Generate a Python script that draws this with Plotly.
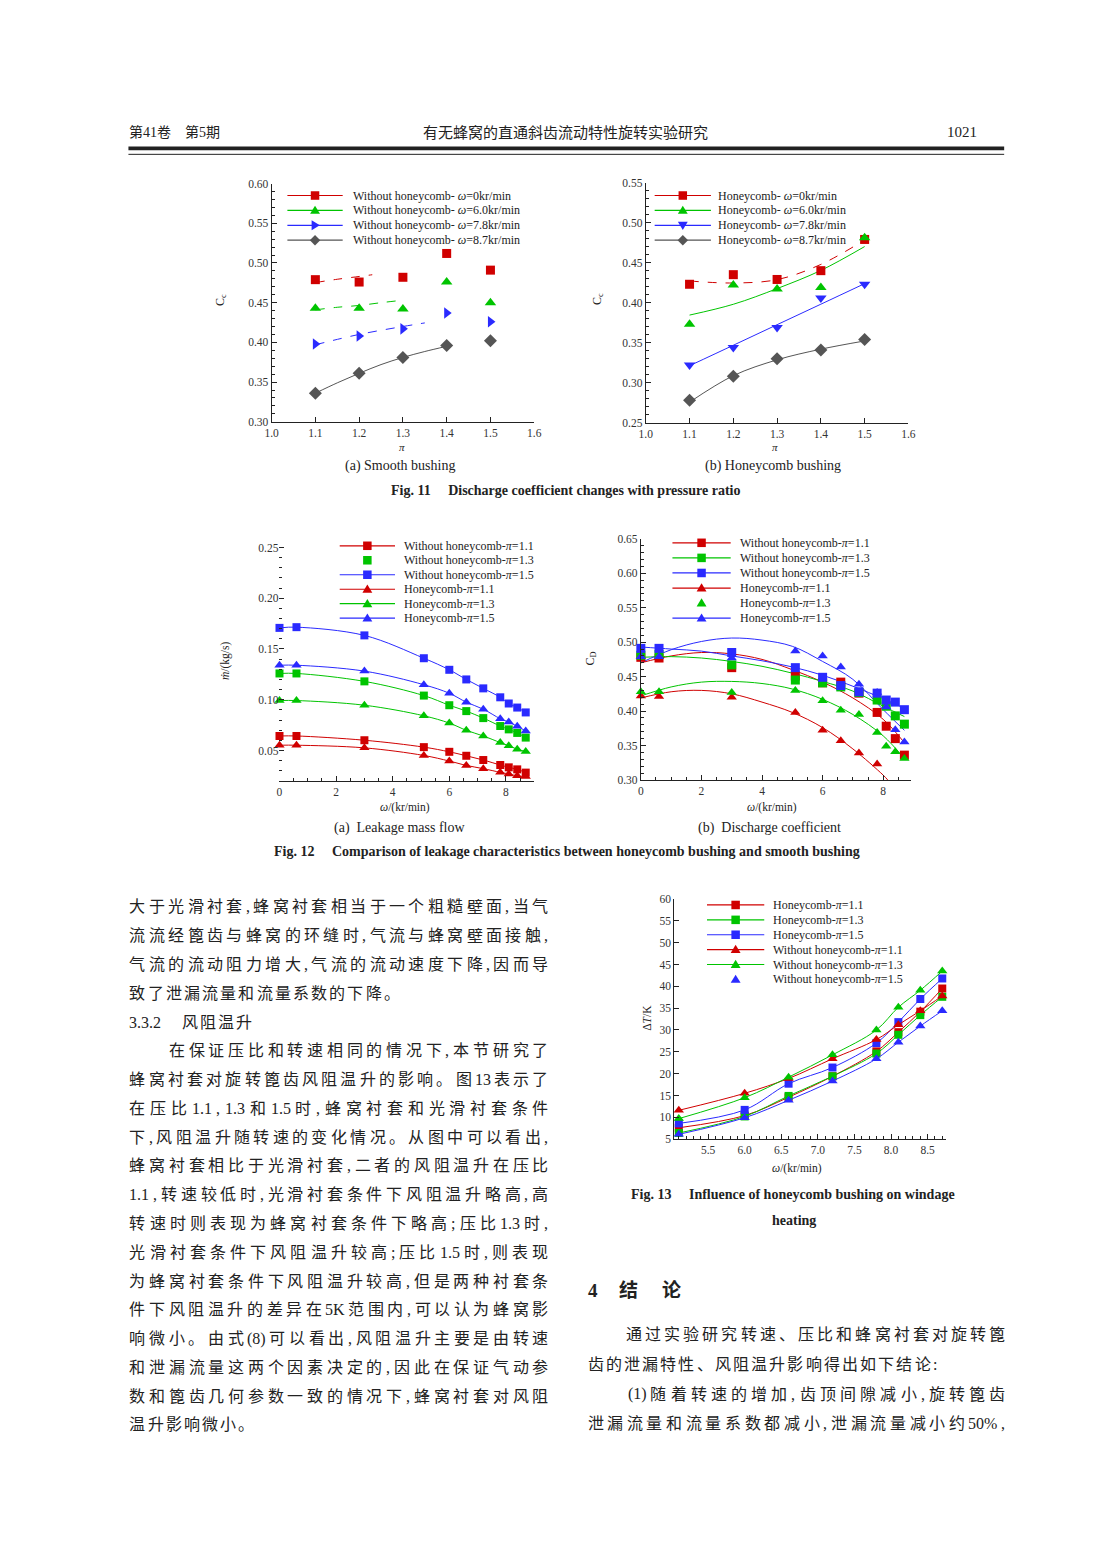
import plotly.graph_objects as go

W, H = 1102, 1546

# ---------------- data: Fig. 11 (discharge coefficient vs pressure ratio) ----------------
pi_ratio = [1.1, 1.2, 1.3, 1.4, 1.5]
smooth_w0 = [0.479, 0.476, 0.482, 0.512, 0.491]
smooth_w60 = [0.443, 0.443, 0.442, 0.476, 0.450]
smooth_w78 = [0.398, 0.408, 0.417, 0.437, 0.426]
smooth_w87 = [0.336, 0.361, 0.381, 0.396, 0.402]
honey_w0 = [0.423, 0.435, 0.429, 0.440, 0.479]
honey_w60 = [0.373, 0.422, 0.417, 0.419, 0.481]
honey_w78 = [0.322, 0.344, 0.369, 0.406, 0.423]
honey_w87 = [0.278, 0.308, 0.330, 0.341, 0.354]

# fitted curves
fit11a_w0_x = [1.10, 1.15, 1.20, 1.23]
fit11a_w0_y = [0.4754, 0.4795, 0.4830, 0.4852]
fit11a_w60_x = [1.10, 1.15, 1.20, 1.25, 1.29]
fit11a_w60_y = [0.441, 0.4442, 0.4465, 0.4500, 0.4525]
fit11a_w78_x = [1.10, 1.20, 1.30, 1.35]
fit11a_w78_y = [0.397, 0.4100, 0.4200, 0.4245]
fit11a_w87_x = [1.10, 1.15, 1.20, 1.25, 1.30, 1.35, 1.40]
fit11a_w87_y = [0.336, 0.349, 0.361, 0.372, 0.381, 0.3885, 0.395]

fit11b_x = [1.1, 1.2, 1.3, 1.4, 1.5]
fit11b_w0_y = [0.4271, 0.4246, 0.4288, 0.4478, 0.4784]
fit11b_w60_y = [0.3845, 0.3980, 0.4176, 0.4403, 0.4701]
fit11b_w78_y = [0.3212, 0.3468, 0.3725, 0.3981, 0.4238]
fit11b_w87_y = [0.2757, 0.3088, 0.3286, 0.3419, 0.3522]

# ---------------- data: Fig. 12 ----------------
omega12 = [0, 0.6, 3.0, 5.1, 6.0, 6.6, 7.2, 7.8, 8.1, 8.4, 8.7]
# (a) leakage mass flow, kg/s
mdot_wo_11 = [0.0643, 0.0643, 0.0601, 0.0533, 0.0487, 0.0448, 0.0406, 0.0357, 0.0334, 0.0314, 0.0282]
mdot_wo_13 = [0.1259, 0.1259, 0.1181, 0.1041, 0.0946, 0.0888, 0.0819, 0.0741, 0.0708, 0.0673, 0.0627]
mdot_wo_15 = [0.1708, 0.1715, 0.1634, 0.1409, 0.1295, 0.1200, 0.1112, 0.1024, 0.0963, 0.0923, 0.0875]
mdot_hc_11 = [0.0552, 0.0552, 0.0526, 0.0451, 0.0396, 0.0353, 0.0321, 0.0285, 0.0269, 0.0250, 0.0243]
mdot_hc_13 = [0.0992, 0.0992, 0.0946, 0.0842, 0.0770, 0.0699, 0.0643, 0.0578, 0.0546, 0.0513, 0.0490]
mdot_hc_15 = [0.1340, 0.1340, 0.1282, 0.1148, 0.1064, 0.0976, 0.0907, 0.0813, 0.0780, 0.0738, 0.0692]
# (b) discharge coefficient
cd_wo_11 = [0.478, 0.477, 0.463, 0.451, 0.441, 0.442, 0.426, 0.398, 0.378, 0.360, 0.336]
cd_wo_13 = [0.481, 0.482, 0.467, 0.445, 0.441, 0.435, 0.427, 0.416, 0.407, 0.393, 0.381]
cd_wo_15 = [0.491, 0.491, 0.485, 0.463, 0.449, 0.437, 0.428, 0.426, 0.416, 0.413, 0.402]
cd_hc_11 = [0.422, 0.421, 0.420, 0.398, 0.372, 0.357, 0.339, 0.323]
cd_hc_13 = [0.428, 0.428, 0.427, 0.430, 0.415, 0.401, 0.395, 0.369, 0.349, 0.341, 0.331]
cd_hc_15 = [0.479, 0.479, 0.477, 0.487, 0.480, 0.464, 0.439, 0.427, 0.406, 0.373, 0.355]
# fitted curves (b)
fit12b_x = [0, 1, 2, 3, 4, 5, 6, 7, 8, 8.7]
fit12b_wo_11 = [0.470, 0.480, 0.485, 0.483, 0.475, 0.460, 0.442, 0.419, 0.388, 0.354]
fit12b_wo_13 = [0.478, 0.479, 0.477, 0.472, 0.465, 0.455, 0.443, 0.429, 0.407, 0.392]
fit12b_wo_15 = [0.493, 0.490, 0.487, 0.480, 0.473, 0.464, 0.452, 0.436, 0.418, 0.404]
fit12b_hc_13 = [0.422, 0.435, 0.442, 0.443, 0.440, 0.432, 0.417, 0.395, 0.364, 0.331]
fit12b_hc_15 = [0.470, 0.489, 0.501, 0.506, 0.503, 0.494, 0.472, 0.446, 0.402, 0.372]
fit12b_hc11_x = [0, 1, 2, 3, 4, 5, 6, 7, 8, 8.15]
fit12b_hc_11 = [0.419, 0.428, 0.430, 0.425, 0.413, 0.398, 0.376, 0.345, 0.307, 0.300]

# ---------------- data: Fig. 13 (windage heating, K) ----------------
omega13 = [5.1, 6.0, 6.6, 7.2, 7.8, 8.1, 8.4, 8.7]
dT_hc_11 = [7.6, 10.4, 14.6, 19.4, 25.1, 29.5, 34.2, 39.5]
dT_hc_13 = [6.4, 10.2, 14.9, 19.4, 24.6, 28.9, 33.4, 37.6]
dT_hc_15 = [8.6, 11.7, 17.7, 21.4, 27.0, 31.8, 37.1, 41.8]
dT_wo_11 = [11.6, 15.5, 18.9, 23.4, 27.8, 31.2, 34.4, 37.8]
dT_wo_13 = [9.7, 14.5, 19.2, 24.3, 30.0, 35.2, 39.1, 43.5]
dT_wo_15 = [6.1, 9.9, 13.9, 18.3, 23.4, 27.2, 30.9, 34.4]

# ---------------- style ----------------
RED = '#d00000'
GREEN = '#00c400'
BLUE = '#2a2aff'
GREY = '#555555'
INK = '#222222'
SERIF = 'Liberation Serif'
MIX = 'Liberation Serif, Noto Sans CJK SC'
TICKFONT = dict(family=SERIF, size=11.5, color='#333333')

fig = go.Figure()
annotations = []
shapes = []


def px(x):
    return x / W


def py(y):
    return 1 - y / H


def ann(text, x, y, size=12, family=MIX, xanchor='center', yanchor='middle', angle=0, color=INK):
    annotations.append(dict(text=text, x=px(x), y=py(y), xref='paper', yref='paper', showarrow=False,
                            xanchor=xanchor, yanchor=yanchor, textangle=angle,
                            font=dict(family=family, size=size, color=color), borderpad=0))


# ---------------- axes ----------------
axes_cfg = [
    # id, x px, y px, xrange, yrange, xdtick, ydtick, xtick0, ytick0, xfmt, yfmt, xminor, yminor, yline
    ('', (268, 534), (179, 419), [1.0, 1.6], [0.30, 0.60], 0.1, 0.05, 1.0, 0.30, '.1f', '.2f', None, 0.01, True),
    ('2', (647, 913), (178, 420), [1.0, 1.6], [0.25, 0.55], 0.1, 0.05, 1.0, 0.25, '.1f', '.2f', None, 0.01, True),
    ('3', (276, 534), (540, 781), [0, 9], [0.02, 0.2556], 2, 0.05, 0, 0.0, 'd', '.2f', 0.5, 0.01, False),
    ('4', (642, 916), (537, 780), [0, 8.93], [0.30, 0.65], 2, 0.05, 0, 0.30, 'd', '.2f', 0.5, 0.01, True),
    ('5', (676, 951), (900, 1142), [5.04, 8.75], [5, 60], 0.5, 5, 5.0, 5, '.1f', 'd', 0.1, None, True),
]
layout_axes = {}
for (aid, xp, yp, xr, yr, xdt, ydt, x0t, y0t, xf, yf, xmin, ymin, yline) in axes_cfg:
    xa = dict(domain=[px(xp[0]), px(xp[1])], range=xr, anchor='y' + aid, showline=True, linecolor=INK,
              linewidth=1, ticks='inside', ticklen=5, tickwidth=1, tickcolor=INK, tick0=x0t, dtick=xdt,
              tickformat=xf, showgrid=False, zeroline=False, tickfont=TICKFONT, fixedrange=True)
    if xmin:
        xa['minor'] = dict(dtick=xmin, tick0=x0t, ticklen=3, ticks='inside', tickcolor=INK, showgrid=False)
    ya = dict(domain=[py(yp[1]), py(yp[0])], range=yr, anchor='x' + aid, showline=yline, linecolor=INK,
              linewidth=1, ticks='inside', ticklen=5, tickwidth=1, tickcolor=INK, tick0=y0t, dtick=ydt,
              tickformat=yf, showgrid=False, zeroline=False, tickfont=TICKFONT, fixedrange=True)
    if ymin:
        ya['minor'] = dict(dtick=ymin, tick0=y0t, ticklen=3, ticks='inside', tickcolor=INK, showgrid=False)
    layout_axes['xaxis' + aid] = xa
    layout_axes['yaxis' + aid] = ya


def series(aid, x, y, color, symbol=None, size=8, dash='solid', shape='linear', lines=True):
    mode = 'lines' if symbol is None else ('lines+markers' if lines else 'markers')
    fig.add_trace(go.Scatter(x=x, y=y, xaxis='x' + aid, yaxis='y' + aid, mode=mode,
                             line=dict(color=color, width=1, dash=dash, shape=shape),
                             marker=dict(symbol=symbol or 'circle', size=size, color=color, line=dict(width=0)),
                             cliponaxis=False, showlegend=False, hoverinfo='skip'))


# Fig 11a
series('', fit11a_w0_x, fit11a_w0_y, RED, dash='dash', shape='spline')
series('', fit11a_w60_x, fit11a_w60_y, GREEN, dash='dash', shape='spline')
series('', fit11a_w78_x, fit11a_w78_y, BLUE, dash='dash', shape='spline')
series('', fit11a_w87_x, fit11a_w87_y, GREY, shape='spline')
series('', pi_ratio, smooth_w0, RED, 'square', 9, lines=False)
series('', pi_ratio, smooth_w60, GREEN, 'triangle-up', 10, lines=False)
series('', pi_ratio, smooth_w78, BLUE, 'triangle-right', 10, lines=False)
series('', pi_ratio, smooth_w87, GREY, 'diamond', 10, lines=False)
# Fig 11b
series('2', fit11b_x, fit11b_w0_y, RED, dash='dash', shape='spline')
series('2', fit11b_x, fit11b_w60_y, GREEN, shape='spline')
series('2', fit11b_x, fit11b_w78_y, BLUE, shape='spline')
series('2', fit11b_x, fit11b_w87_y, GREY, shape='spline')
series('2', pi_ratio, honey_w0, RED, 'square', 9, lines=False)
series('2', pi_ratio, honey_w60, GREEN, 'triangle-up', 10, lines=False)
series('2', pi_ratio, honey_w78, BLUE, 'triangle-down', 10, lines=False)
series('2', pi_ratio, honey_w87, GREY, 'diamond', 10, lines=False)
# Fig 12a
for yv, col, sym in [(mdot_wo_11, RED, 'square'), (mdot_wo_13, GREEN, 'square'), (mdot_wo_15, BLUE, 'square'),
                     (mdot_hc_11, RED, 'triangle-up'), (mdot_hc_13, GREEN, 'triangle-up'),
                     (mdot_hc_15, BLUE, 'triangle-up')]:
    series('3', omega12, yv, col, sym, 8 if sym == 'square' else 9, shape='spline')
# Fig 12b
series('4', fit12b_x, fit12b_wo_11, RED, shape='spline')
series('4', fit12b_x, fit12b_wo_13, GREEN, shape='spline')
series('4', fit12b_x, fit12b_wo_15, BLUE, shape='spline')
series('4', fit12b_hc11_x, fit12b_hc_11, RED, shape='spline')
series('4', fit12b_x, fit12b_hc_13, GREEN, shape='spline')
series('4', fit12b_x, fit12b_hc_15, BLUE, shape='spline')
series('4', omega12, cd_wo_11, RED, 'square', 9, lines=False)
series('4', omega12, cd_wo_13, GREEN, 'square', 9, lines=False)
series('4', omega12, cd_wo_15, BLUE, 'square', 9, lines=False)
series('4', omega12[:len(cd_hc_11)], cd_hc_11, RED, 'triangle-up', 9, lines=False)
series('4', omega12, cd_hc_13, GREEN, 'triangle-up', 9, lines=False)
series('4', omega12, cd_hc_15, BLUE, 'triangle-up', 9, lines=False)
# Fig 13
for yv, col, sym in [(dT_hc_11, RED, 'square'), (dT_hc_13, GREEN, 'square'), (dT_hc_15, BLUE, 'square'),
                     (dT_wo_11, RED, 'triangle-up'), (dT_wo_13, GREEN, 'triangle-up'),
                     (dT_wo_15, BLUE, 'triangle-up')]:
    series('5', omega13, yv, col, sym, 8 if sym == 'square' else 9, shape='spline')


# ---------------- manual legends ----------------
def legend_marker(cx, cy, symbol, color, s=4.3):
    if symbol == 'square':
        shapes.append(dict(type='rect', xref='paper', yref='paper', x0=px(cx - s), x1=px(cx + s),
                           y0=py(cy + s), y1=py(cy - s), fillcolor=color, line=dict(width=0)))
        return
    if symbol == 'triangle-up':
        pts = [(cx, cy - s - 0.5), (cx + s + 0.7, cy + s * 0.8), (cx - s - 0.7, cy + s * 0.8)]
    elif symbol == 'triangle-down':
        pts = [(cx, cy + s + 0.5), (cx + s + 0.7, cy - s * 0.8), (cx - s - 0.7, cy - s * 0.8)]
    elif symbol == 'triangle-right':
        pts = [(cx + s + 0.5, cy), (cx - s * 0.8, cy - s - 0.7), (cx - s * 0.8, cy + s + 0.7)]
    else:  # diamond
        pts = [(cx, cy - s - 1), (cx + s + 1, cy), (cx, cy + s + 1), (cx - s - 1, cy)]
    path = 'M ' + ' L '.join('%.5f,%.5f' % (px(a), py(b)) for a, b in pts) + ' Z'
    shapes.append(dict(type='path', xref='paper', yref='paper', path=path, fillcolor=color,
                       line=dict(width=0)))


def legend(entries, xl0, xl1, xt, y0, dy, size=12):
    for i, (label, color, symbol, has_line) in enumerate(entries):
        yy = y0 + i * dy
        if has_line:
            shapes.append(dict(type='line', xref='paper', yref='paper', x0=px(xl0), x1=px(xl1),
                               y0=py(yy), y1=py(yy), line=dict(color=color, width=1.2)))
        legend_marker((xl0 + xl1) / 2, yy, symbol, color)
        ann(label, xt, yy, size=size, family=SERIF, xanchor='left')


w = '<i>ω</i>'
p = '<i>π</i>'
legend([('Without honeycomb- ' + w + '=0kr/min', RED, 'square', True),
        ('Without honeycomb- ' + w + '=6.0kr/min', GREEN, 'triangle-up', True),
        ('Without honeycomb- ' + w + '=7.8kr/min', BLUE, 'triangle-right', True),
        ('Without honeycomb- ' + w + '=8.7kr/min', GREY, 'diamond', True)],
       284, 340, 349, 191, 15)
legend([('Honeycomb- ' + w + '=0kr/min', RED, 'square', True),
        ('Honeycomb- ' + w + '=6.0kr/min', GREEN, 'triangle-up', True),
        ('Honeycomb- ' + w + '=7.8kr/min', BLUE, 'triangle-down', True),
        ('Honeycomb- ' + w + '=8.7kr/min', GREY, 'diamond', True)],
       656, 713, 719, 191, 15)
legend([('Without honeycomb-' + p + '=1.1', RED, 'square', True),
        ('Without honeycomb-' + p + '=1.3', GREEN, 'square', False),
        ('Without honeycomb-' + p + '=1.5', BLUE, 'square', True),
        ('Honeycomb-' + p + '=1.1', RED, 'triangle-up', True),
        ('Honeycomb-' + p + '=1.3', GREEN, 'triangle-up', True),
        ('Honeycomb-' + p + '=1.5', BLUE, 'triangle-up', True)],
       337, 393, 401, 544, 14.6)
legend([('Without honeycomb-' + p + '=1.1', RED, 'square', True),
        ('Without honeycomb-' + p + '=1.3', GREEN, 'square', True),
        ('Without honeycomb-' + p + '=1.5', BLUE, 'square', True),
        ('Honeycomb-' + p + '=1.1', RED, 'triangle-up', True),
        ('Honeycomb-' + p + '=1.3', GREEN, 'triangle-up', False),
        ('Honeycomb-' + p + '=1.5', BLUE, 'triangle-up', True)],
       674, 733, 741, 541, 15.2)
legend([('Honeycomb-' + p + '=1.1', RED, 'square', True),
        ('Honeycomb-' + p + '=1.3', GREEN, 'square', True),
        ('Honeycomb-' + p + '=1.5', BLUE, 'square', True),
        ('Without honeycomb-' + p + '=1.1', RED, 'triangle-up', True),
        ('Without honeycomb-' + p + '=1.3', GREEN, 'triangle-up', True),
        ('Without honeycomb-' + p + '=1.5', BLUE, 'triangle-up', False)],
       709, 767, 775, 906, 15)

# ---------------- axis titles ----------------
ann('C<sub>c</sub>', 216, 296, size=12, family=SERIF, angle=-90)
ann('C<sub>c</sub>', 598, 295, size=12, family=SERIF, angle=-90)
ann('<i>ṁ</i>/(kg/s)', 222, 660, size=11.5, family=SERIF, angle=-90)
ann('C<sub>D</sub>', 591, 657, size=12, family=SERIF, angle=-90)
ann('Δ<i>T</i>/K', 648, 1020, size=11.5, family=SERIF, angle=-90)
ann('<i>π</i>', 400, 444, size=11, family=SERIF)
ann('<i>π</i>', 778, 444, size=11, family=SERIF)
ann('<i>ω</i>/(kr/min)', 403, 808, size=11.5, family=SERIF)
ann('<i>ω</i>/(kr/min)', 775, 808, size=11.5, family=SERIF)
ann('<i>ω</i>/(kr/min)', 800, 1172, size=11.5, family=SERIF)

# ---------------- captions ----------------
ann('(a) Smooth bushing', 398, 464, size=14, family=SERIF)
ann('(b) Honeycomb bushing', 776, 464, size=14, family=SERIF)
ann('<b>Fig. 11\u2003 Discharge coefficient changes with pressure ratio</b>', 566, 488, size=14, family=SERIF)
ann('(a)  Leakage mass flow', 398, 828, size=14, family=SERIF)
ann('(b)  Discharge coefficient', 772, 828, size=14, family=SERIF)
ann('<b>Fig. 12\u2003 Comparison of leakage characteristics between honeycomb bushing and smooth bushing</b>',
    567, 852, size=14, family=SERIF)
ann('<b>Fig. 13\u2003 Influence of honeycomb bushing on windage</b>', 796, 1198, size=14, family=SERIF)
ann('<b>heating</b>', 797, 1224, size=14, family=SERIF)

# ---------------- page header ----------------
ann('第41卷\u3000第5期', 123, 127, size=14, xanchor='left')
ann('有无蜂窝的直通斜齿流动特性旋转实验研究', 566, 127, size=15)
ann('1021', 983, 127, size=15, family=SERIF, xanchor='right')
shapes.append(dict(type='rect', xref='paper', yref='paper', x0=px(123), x1=px(1010), y0=py(145.5),
                   y1=py(141.5), fillcolor=INK, line=dict(width=0)))
shapes.append(dict(type='line', xref='paper', yref='paper', x0=px(123), x1=px(1010), y0=py(149.5),
                   y1=py(149.5), line=dict(color=INK, width=1)))


# ---------------- body text (justified, character by character) ----------------
def is_ascii(c):
    return ord(c) < 128


def tokens_of(s):
    toks, buf = [], ''
    for c in s:
        if is_ascii(c) and c not in ',;':
            buf += c
        else:
            if buf:
                toks.append(buf)
                buf = ''
            toks.append(c)
    if buf:
        toks.append(buf)
    return toks


def tok_w(t, fs):
    if t == '\u3000':
        return fs
    if len(t) == 1 and not is_ascii(t):
        return fs
    wsum = 0
    for c in t:
        if c in '.,;:':
            wsum += 0.25 * fs
        elif c in '()':
            wsum += 0.33 * fs
        elif c == '%':
            wsum += 0.83 * fs
        elif c.isupper():
            wsum += 0.7 * fs
        else:
            wsum += 0.5 * fs
    return wsum


def text_line(s, x0, x1, y, justify, fs=16, gap=2.4):
    toks = tokens_of(s)
    ws = [tok_w(t, fs) for t in toks]
    g = gap
    if justify and len(toks) > 1:
        g = (x1 - x0 - sum(ws)) / (len(toks) - 1)
    x = x0
    for t, wt in zip(toks, ws):
        if t.strip() and t != '\u3000':
            ann(t, x, y, size=fs, xanchor='left')
        x += wt + g


left_lines = [
    ('大于光滑衬套,蜂窝衬套相当于一个粗糙壁面,当气', True),
    ('流流经篦齿与蜂窝的环缝时,气流与蜂窝壁面接触,', True),
    ('气流的流动阻力增大,气流的流动速度下降,因而导', True),
    ('致了泄漏流量和流量系数的下降。', False),
    ('3.3.2\u3000风阻温升', False),
    ('\u3000\u3000在保证压比和转速相同的情况下,本节研究了', True),
    ('蜂窝衬套对旋转篦齿风阻温升的影响。图13表示了', True),
    ('在压比1.1,1.3和1.5时,蜂窝衬套和光滑衬套条件', True),
    ('下,风阻温升随转速的变化情况。从图中可以看出,', True),
    ('蜂窝衬套相比于光滑衬套,二者的风阻温升在压比', True),
    ('1.1,转速较低时,光滑衬套条件下风阻温升略高,高', True),
    ('转速时则表现为蜂窝衬套条件下略高;压比1.3时,', True),
    ('光滑衬套条件下风阻温升较高;压比1.5时,则表现', True),
    ('为蜂窝衬套条件下风阻温升较高,但是两种衬套条', True),
    ('件下风阻温升的差异在5K范围内,可以认为蜂窝影', True),
    ('响微小。由式(8)可以看出,风阻温升主要是由转速', True),
    ('和泄漏流量这两个因素决定的,因此在保证气动参', True),
    ('数和篦齿几何参数一致的情况下,蜂窝衬套对风阻', True),
    ('温升影响微小。', False),
]
for i, (s, j) in enumerate(left_lines):
    text_line(s, 123, 547, 908 + 29 * i, j)

right_lines = [
    ('\u3000\u3000通过实验研究转速、压比和蜂窝衬套对旋转篦', True),
    ('齿的泄漏特性、风阻温升影响得出如下结论:', False),
    ('\u3000\u3000(1)随着转速的增加,齿顶间隙减小,旋转篦齿', True),
    ('泄漏流量和流量系数都减小,泄漏流量减小约50%,', True),
]
for i, (s, j) in enumerate(right_lines):
    text_line(s, 587, 1010, 1339 + 30 * i, j)

# section heading
ann('<b>4</b>', 587, 1295, size=19, family=SERIF, xanchor='left')
ann('<b>结</b>', 619, 1295, size=19, xanchor='left')
ann('<b>论</b>', 662, 1295, size=19, xanchor='left')

fig.update_layout(width=W, height=H, margin=dict(l=0, r=0, t=0, b=0), paper_bgcolor='white',
                  plot_bgcolor='white', showlegend=False, annotations=annotations, shapes=shapes,
                  hovermode=False, **layout_axes)
fig.write_html('out.html', config={'displayModeBar': False, 'staticPlot': True},
               post_script="document.body.style.margin='0px';")
